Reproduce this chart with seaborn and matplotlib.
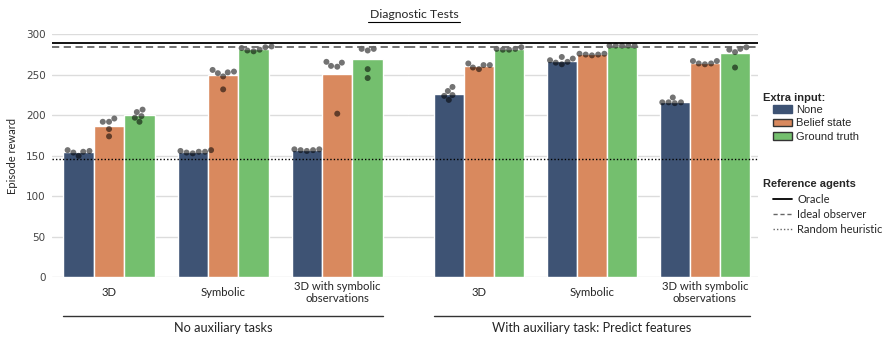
import numpy as np
import pandas as pd
import matplotlib
matplotlib.use('Agg')
import matplotlib.pyplot as plt
import matplotlib.transforms as mtransforms
from matplotlib.lines import Line2D
from matplotlib.patches import Patch
import seaborn as sns

sns.set_theme(style='whitegrid')
plt.rcParams['font.family'] = ['Lato', 'DejaVu Sans']

envs = ['3D', 'Symbolic', '3D with symbolic\nobservations']
inputs = ['None', 'Belief state', 'Ground truth']
colors = ['#3e5374', '#d9895e', '#74bf6e']

# per-seed episode reward, one list per environment
noaux_none = [[157, 155, 150, 154, 156], [157, 155, 154, 153, 155, 156], [158, 157, 156, 157, 158]]
noaux_belief = [[192, 192, 196, 183, 174], [256, 253, 248, 252, 254, 232], [266, 265, 261, 260, 202]]
noaux_ground = [[207, 204, 199, 197, 192], [285, 284, 280, 279, 281, 283], [282, 280, 282, 257, 246]]

aux_none = [[235, 230, 225, 224, 219], [272, 270, 268, 266, 263, 265], [222, 216, 215, 216, 216]]
aux_belief = [[264, 262, 262, 259, 257], [276, 275, 274, 275, 276], [267, 264, 263, 264, 267]]
aux_ground = [[284, 282, 281, 281, 282], [286, 286, 286, 286, 286], [281, 278, 282, 284, 259]]

oracle = 289
ideal_observer = 284.5
random_heuristic = 146.5

groups = ['No auxiliary tasks', 'With auxiliary task: Predict features']


def make_frame(none, belief, ground):
    rows = []
    for env, n, b, g in zip(envs, none, belief, ground):
        for inp, vals in zip(inputs, [n, b, g]):
            for v in vals:
                rows.append((env, inp, v))
    return pd.DataFrame(rows, columns=['env', 'input', 'reward'])


W, H = 883, 337
fig = plt.figure(figsize=(W / 100, H / 100), dpi=100)
bottom = 1 - 277.3 / H
height = 243 / H
ax1 = fig.add_axes([52 / W, bottom, 356 / W, height])
ax2 = fig.add_axes([408 / W, bottom, 350 / W, height])

frames = [make_frame(noaux_none, noaux_belief, noaux_ground),
          make_frame(aux_none, aux_belief, aux_ground)]
xlims = [(-0.5, 2.62), (-0.628, 2.47)]

for ax, df, xlim, group in zip([ax1, ax2], frames, xlims, groups):
    sns.barplot(data=df, x='env', y='reward', hue='input', order=envs, hue_order=inputs,
                palette=colors, saturation=1, errorbar=None, width=0.8, edgecolor='white',
                linewidth=1, ax=ax, legend=False, zorder=2)
    sns.swarmplot(data=df, x='env', y='reward', hue='input', order=envs, hue_order=inputs,
                  dodge=True, palette={k: 'black' for k in inputs}, alpha=0.55, size=4.3,
                  linewidth=0, ax=ax, legend=False, zorder=3)
    ax.axhline(oracle, color='black', lw=1.3, zorder=5)
    ax.axhline(ideal_observer, color='#666666', lw=1.3, ls=(0, (4, 2.5)), zorder=5)
    ax.axhline(random_heuristic, color='black', lw=1, ls=(0, (1, 1.5)), zorder=5)
    ax.set_xlim(xlim)
    ax.set_ylim(0, 300)
    ax.set_yticks(np.arange(0, 301, 50))
    ax.set_xlabel('')
    ax.set_ylabel('')
    sns.despine(ax=ax, left=True, bottom=True)
    ax.grid(axis='x', visible=False)
    ax.grid(axis='y', color='#dcdcdc', lw=1)
    ax.set_axisbelow(True)
    ax.tick_params(axis='x', length=0, pad=11, labelsize=8.2)
    for lab in ax.get_xticklabels():
        lab.set_va('center')
    trans = mtransforms.blended_transform_factory(ax.transData, ax.transAxes)
    ax.plot([-0.4, 2.4], [-0.159, -0.159], transform=trans, color='#333333', lw=1, clip_on=False)
    ax.text(1, -0.208, group, transform=trans, ha='center', va='center', fontsize=9.2)

ax1.tick_params(axis='y', length=0, pad=4.5, labelsize=7.5, labelcolor='#444444')
for lab in ax1.get_yticklabels():
    lab.set_family('DejaVu Sans')
ax1.set_ylabel('Episode reward', fontsize=8, labelpad=6)
ax2.tick_params(axis='y', length=0)
ax2.set_yticklabels([])

# title with underline
fig.text(414 / W, 1 - 14 / H, 'Diagnostic Tests', ha='center', va='center', fontsize=8.8)
fig.add_artist(Line2D([368 / W, 460 / W], [1 - 21.5 / H] * 2, color='black', lw=0.8))

# legends
fig.text(763 / W, 1 - 97.7 / H, 'Extra input:', fontsize=8, weight='bold',
         family='Liberation Sans', va='center')
patches = [Patch(facecolor=colors[0], edgecolor=colors[0]),
           Patch(facecolor=colors[1], edgecolor='#333333', linewidth=1),
           Patch(facecolor=colors[2], edgecolor='#333333', linewidth=1)]
leg1 = fig.legend(patches, inputs, loc='upper left', bbox_to_anchor=(773 / W, 1 - 105 / H),
                  frameon=False, borderpad=0, borderaxespad=0, handlelength=1.7,
                  handleheight=0.7, handletextpad=0.4, labelspacing=0.3,
                  prop={'family': 'Liberation Sans', 'size': 8})

fig.text(763 / W, 1 - 184 / H, 'Reference agents', fontsize=8, weight='bold',
         family='Liberation Sans', va='center')
lines = [Line2D([], [], color='black', lw=1.3),
         Line2D([], [], color='#666666', lw=1, ls=(0, (3, 2))),
         Line2D([], [], color='#666666', lw=1, ls=(0, (1, 1.5)))]
leg2 = fig.legend(lines, ['Oracle', 'Ideal observer', 'Random heuristic'], loc='upper left',
                  bbox_to_anchor=(773 / W, 1 - 194 / H), frameon=False, borderpad=0,
                  borderaxespad=0, handlelength=1.7, handletextpad=0.5, labelspacing=0.35,
                  prop={'family': 'Lato', 'size': 8})

fig.savefig('out.png', dpi=100)
